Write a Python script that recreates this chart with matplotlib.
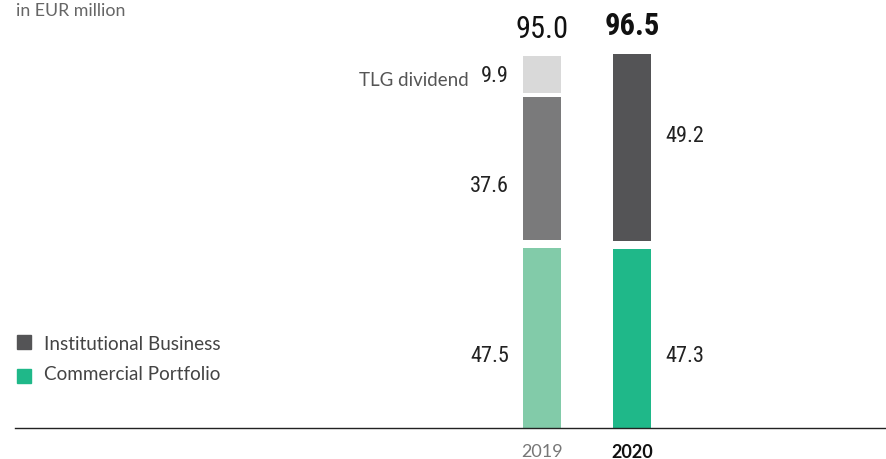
import matplotlib
matplotlib.use("Agg")
import matplotlib.pyplot as plt
from matplotlib.patches import Rectangle

years = ["2019", "2020"]
commercial = [47.5, 47.3]
institutional = [37.6, 49.2]
tlg_dividend = [9.9, 0.0]
totals = ["95.0", "96.5"]

c_comm = ["#82cba9", "#1fb889"]
c_inst = ["#7a7a7b", "#545456"]
c_tlg = "#d9d9d9"

W, H = 886, 459
fig = plt.figure(figsize=(W / 100, H / 100), dpi=100)
scale = 3.79  # px per unit
ax_left, ax_right, base = 15, 886, 428
ax = fig.add_axes([ax_left / W, (H - base) / H, (ax_right - ax_left) / W, base / H])
ax.set_ylim(0, base / scale)
spacing = 90.0
ax.set_xlim(-(542 - ax_left) / spacing, 1 + (ax_right - 632) / spacing)
for s in ["top", "right", "left"]:
    ax.spines[s].set_visible(False)
ax.spines["bottom"].set_color("#222222")
ax.spines["bottom"].set_linewidth(1.0)
ax.set_xticks([])
ax.set_yticks([])

bw = 38 / spacing
gap1 = 8 / scale
gap2 = 4 / scale
xs = [0, 1]

num_font = dict(family=["Roboto Condensed", "Roboto", "DejaVu Sans"], fontstretch="condensed")
lbl_font = dict(family="Lato", fontweight="normal")


def py(pix):
    """pixel row -> data y"""
    return (base - pix) / scale


for i, x in enumerate(xs):
    ax.bar(x, commercial[i], width=bw, color=c_comm[i], bottom=0)
    b2 = commercial[i] + gap1
    ax.bar(x, institutional[i], width=bw, color=c_inst[i], bottom=b2)
    if tlg_dividend[i] > 0:
        b3 = b2 + institutional[i] + gap2
        ax.bar(x, tlg_dividend[i], width=bw, color=c_tlg, bottom=b3)

ax.text(xs[0], py(29), totals[0], ha="center", va="center", fontsize=22,
        color="#111111", **num_font)
ax.text(xs[1], py(26), totals[1], ha="center", va="center", fontsize=22,
        color="#111111", fontweight="bold", **num_font)

# segment labels
off = (bw / 2) + 14 / spacing
ax.text(xs[0] - off, py(357), f"{commercial[0]:.1f}", ha="right", va="center",
        fontsize=16, color="#222222", **num_font)
ax.text(xs[1] + off, py(357), f"{commercial[1]:.1f}", ha="left", va="center",
        fontsize=16, color="#222222", **num_font)
ax.text(xs[0] - off, py(187), f"{institutional[0]:.1f}",
        ha="right", va="center", fontsize=16, color="#222222", **num_font)
ax.text(xs[1] + off, py(137), f"{institutional[1]:.1f}",
        ha="left", va="center", fontsize=16, color="#222222", **num_font)
ax.text(xs[0] - off, py(77), f"{tlg_dividend[0]:.1f}", ha="right", va="center",
        fontsize=16, color="#222222", **num_font)
ax.text(xs[0] - off - 40 / spacing, py(80), "TLG dividend", ha="right", va="center",
        fontsize=13.5, color="#555555", **lbl_font)

# year labels
ax.text(xs[0], py(452), years[0], ha="center", va="center", fontsize=13,
        color="#777777", **lbl_font)
ax.text(xs[1], py(452), years[1], ha="center", va="center", fontsize=13,
        color="#111111", family="Lato", fontweight="bold")

# header
fig.text(16 / W, 1 - 11 / H, "in EUR million", ha="left", va="center", fontsize=12.8,
         color="#666666", **lbl_font)

# legend
leg = [("Institutional Business", c_inst[1], 342, 344), ("Commercial Portfolio", c_comm[1], 376, 375)]
for label, col, yc, yt in leg:
    fig.patches.append(Rectangle((17 / W, 1 - (yc + 7) / H), 14 / W, 14 / H,
                                 transform=fig.transFigure, color=col))
    fig.text(44 / W, 1 - yt / H, label, ha="left", va="center", fontsize=13.6,
             color="#444444", **lbl_font)

fig.savefig("out.png", dpi=100)
